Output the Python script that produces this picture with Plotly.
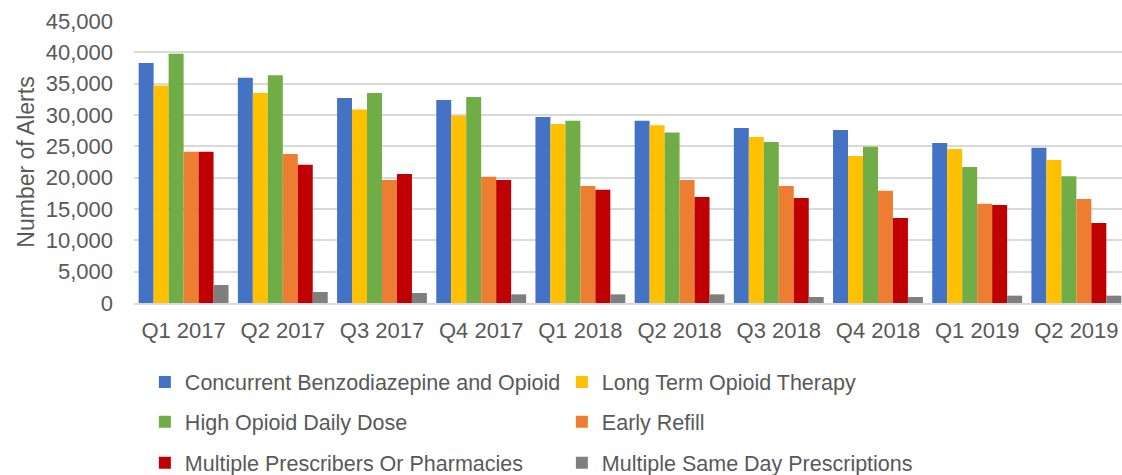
import plotly.graph_objects as go

quarters = ["Q1 2017", "Q2 2017", "Q3 2017", "Q4 2017", "Q1 2018",
            "Q2 2018", "Q3 2018", "Q4 2018", "Q1 2019", "Q2 2019"]

concurrent_benzo = [38300, 35960, 32720, 32400, 29690, 29100, 27930, 27610, 25540, 24790]
long_term = [34690, 33520, 30860, 29900, 28570, 28360, 26490, 23460, 24580, 22820]
high_dose = [39790, 36340, 33520, 32880, 29100, 27190, 25700, 24950, 21710, 20220]
early_refill = [24150, 23780, 19630, 20160, 18670, 19630, 18670, 17930, 15850, 16600]
multi_prescribers = [24150, 22080, 20590, 19630, 18090, 16920, 16760, 13570, 15640, 12770]
multi_same_day = [2870, 1760, 1600, 1380, 1380, 1380, 960, 960, 1170, 1170]

series = [
    ("Concurrent Benzodiazepine and Opioid", concurrent_benzo, "#4472C4", "legend"),
    ("Long Term Opioid Therapy", long_term, "#FFC000", "legend"),
    ("High Opioid Daily Dose", high_dose, "#70AD47", "legend2"),
    ("Early Refill", early_refill, "#ED7D31", "legend2"),
    ("Multiple Prescribers Or Pharmacies", multi_prescribers, "#C00000", "legend3"),
    ("Multiple Same Day Prescriptions", multi_same_day, "#7F7F7F", "legend3"),
]

FONT = "Liberation Sans, Arial, sans-serif"
TXT = "#595959"

fig = go.Figure()
for name, vals, color, lg in series:
    fig.add_trace(go.Bar(x=quarters, y=vals, name=name, marker_color=color,
                         marker_line_width=0, legend=lg))

legend_common = dict(orientation="h", x=0.011, xanchor="left", yanchor="middle",
                     yref="container",
                     font=dict(family=FONT, size=21.5, color=TXT),
                     entrywidth=372, entrywidthmode="pixels",
                     bgcolor="rgba(0,0,0,0)", itemclick=False)

fig.update_layout(
    width=1122, height=475,
    margin=dict(l=134, r=0, t=21, b=172),
    paper_bgcolor="white", plot_bgcolor="white",
    barmode="group", bargap=0.094, bargroupgap=0,
    font=dict(family=FONT, size=21, color=TXT),
    legend=dict(y=0.196, **legend_common),
    legend2=dict(y=0.112, **legend_common),
    legend3=dict(y=0.026, **legend_common),
    xaxis=dict(range=[-0.5, 9.46], showgrid=False, showline=True,
               linecolor="#d9d9d9", linewidth=1.5, automargin=False,
               tickfont=dict(family=FONT, size=22, color=TXT),
               ticklabelstandoff=7),
    yaxis=dict(range=[0, 45000], dtick=5000, tickformat=",d",
               showgrid=True, gridcolor="#d9d9d9", gridwidth=1.5,
               zeroline=False, showline=False, automargin=False,
               tickfont=dict(family=FONT, size=22, color=TXT),
               ticklabelstandoff=20,
               title=dict(text="Number of Alerts",
                          font=dict(family=FONT, size=23, color=TXT),
                          standoff=4)),
)

fig.write_html("out.html", config={"displayModeBar": False},
               post_script="document.body.style.margin='0';")
